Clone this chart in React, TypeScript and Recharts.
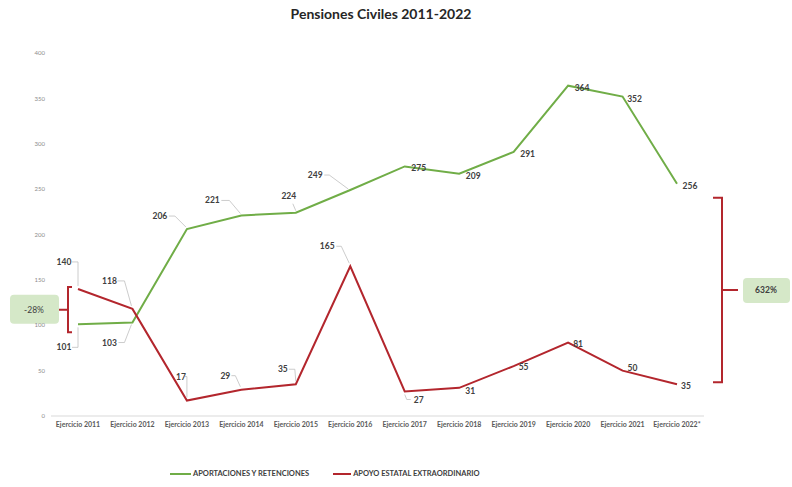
import React from "react";
import {
  LineChart,
  Line,
  XAxis,
  YAxis,
  LabelList,
  ReferenceLine,
} from "recharts";

const years = [
  "Ejercicio 2011",
  "Ejercicio 2012",
  "Ejercicio 2013",
  "Ejercicio 2014",
  "Ejercicio 2015",
  "Ejercicio 2016",
  "Ejercicio 2017",
  "Ejercicio 2018",
  "Ejercicio 2019",
  "Ejercicio 2020",
  "Ejercicio 2021",
  "Ejercicio 2022*",
];

const aportaciones = [101, 103, 206, 221, 224, 249, 275, 267, 291, 364, 352, 256];
const aportacionesLabels = ["101", "103", "206", "221", "224", "249", "275", "209", "291", "364", "352", "256"];

const apoyo = [140, 118, 17, 29, 35, 165, 27, 31, 55, 81, 50, 35];
const apoyoLabels = ["140", "118", "17", "29", "35", "165", "27", "31", "55", "81", "50", "35"];

const yTicks = [0, 50, 100, 150, 200, 250, 300, 350, 400];

const GREEN = "#70ad47";
const RED = "#b3262d";
const FONT = "Lato, 'Open Sans', sans-serif";

// label placement relative to each point (layout only)
type LabelPos = { dx: number; dy: number; leader?: number[][] };

const greenPos: LabelPos[] = [
  { dx: -14, dy: 23, leader: [[-6, 23], [0, 23], [0, 3]] },
  { dx: -23, dy: 20, leader: [[-14, 20], [-8, 20], [-1, 2]] },
  { dx: -27, dy: -13, leader: [[-18, -13], [-12, -13], [-1, -2]] },
  { dx: -29, dy: -15, leader: [[-20, -15], [-12, -15], [-1, -2]] },
  { dx: -7, dy: -17, leader: [[-3, -9], [0, -2]] },
  { dx: -35, dy: -15, leader: [[-26, -15], [-21, -15], [-2, -1]] },
  { dx: 14, dy: 2 },
  { dx: 14, dy: 2 },
  { dx: 14, dy: 2 },
  { dx: 14, dy: 2 },
  { dx: 12, dy: 2 },
  { dx: 13, dy: 2 },
];

const redPos: LabelPos[] = [
  { dx: -14, dy: -27, leader: [[-6, -27], [0, -27], [0, -3]] },
  { dx: -23, dy: -28, leader: [[-15, -28], [-8, -28], [-1, -3]] },
  { dx: -6, dy: -24, leader: [[-2, -24], [0, -24], [0, -3]] },
  { dx: -16, dy: -14, leader: [[-10, -14], [-6, -14], [-1, -3]] },
  { dx: -13, dy: -15, leader: [[-7, -15], [-1, -15], [0, -3]] },
  { dx: -23, dy: -20, leader: [[-14, -20], [-9, -20], [-1, -3]] },
  { dx: 14, dy: 9, leader: [[0, 3], [2, 8], [6, 8]] },
  { dx: 11, dy: 3 },
  { dx: 10, dy: 1 },
  { dx: 10, dy: 2 },
  { dx: 10, dy: -3 },
  { dx: 9, dy: 2 },
];

const data = years.map((year, i) => ({
  year,
  aportaciones: aportaciones[i],
  apoyo: apoyo[i],
  aportacionesLabel: aportacionesLabels[i],
  apoyoLabel: apoyoLabels[i],
}));

const makeLabel = (positions: LabelPos[]) => (props: any) => {
  const { index, value } = props;
  const vb = props.viewBox || {};
  const x = props.x ?? vb.x;
  const y = props.y ?? vb.y;
  const pos = positions[index];
  if (!pos || x == null || y == null) return null;
  return (
    <g key={`lbl-${index}`}>
      {pos.leader && (
        <polyline
          points={pos.leader.map(([a, b]) => `${x + a},${y + b}`).join(" ")}
          fill="none"
          stroke="#bfbfbf"
          strokeWidth={0.8}
        />
      )}
      <text
        x={x + pos.dx}
        y={y + pos.dy}
        textAnchor="middle"
        dominantBaseline="central"
        fontSize={8.5}
        fontWeight={700}
        fontFamily={FONT}
        fill="#404040"
      >
        {value}
      </text>
    </g>
  );
};

const LeftBracket = (props: any) => {
  const { x1, y1, y2 } = props;
  const top = Math.min(y1, y2) - 2;
  const bottom = Math.max(y1, y2) + 8;
  const bx = x1 - 10;
  const mid = (top + bottom) / 2;
  return (
    <g>
      <path
        d={`M${bx + 4},${top} L${bx},${top} L${bx},${bottom} L${bx + 4},${bottom} M${bx},${mid} L${bx - 9},${mid}`}
        fill="none"
        stroke={RED}
        strokeWidth={2}
      />
      <rect x={bx - 58} y={mid - 15} width={49} height={29} rx={4} fill="#d5e8c8" />
      <text
        x={bx - 34}
        y={mid}
        textAnchor="middle"
        dominantBaseline="central"
        fontSize={8.5}
        fontFamily={FONT}
        fill="#404040"
      >
        -28%
      </text>
    </g>
  );
};

const RightBracket = (props: any) => {
  const { x1, y1, y2 } = props;
  const top = Math.min(y1, y2) + 14;
  const bottom = Math.max(y1, y2) - 2;
  const bx = x1 + 45;
  const mid = (top + bottom) / 2;
  return (
    <g>
      <path
        d={`M${bx - 9},${top} L${bx},${top} L${bx},${bottom} L${bx - 9},${bottom} M${bx},${mid} L${bx + 16},${mid}`}
        fill="none"
        stroke={RED}
        strokeWidth={2}
      />
      <rect x={bx + 21} y={mid - 12} width={47} height={25} rx={4} fill="#d5e8c8" />
      <text
        x={bx + 44}
        y={mid}
        textAnchor="middle"
        dominantBaseline="central"
        fontSize={8.5}
        fontWeight={700}
        fontFamily={FONT}
        fill="#404040"
      >
        632%
      </text>
    </g>
  );
};

export default function App() {
  return (
    <div style={{ position: "absolute", left: 0, top: 0, width: 792, height: 487, background: "#fff" }}>
      <div
        style={{
          position: "absolute",
          top: 5,
          left: 0,
          width: 762,
          textAlign: "center",
          fontFamily: FONT,
          fontWeight: 700,
          fontSize: 14,
          color: "#262626",
        }}
      >
        Pensiones Civiles 2011-2022
      </div>
      <LineChart
        width={792}
        height={487}
        data={data}
        margin={{ top: 53, right: 88, bottom: 41, left: 0 }}
      >
        <XAxis
          dataKey="year"
          height={30}
          axisLine={{ stroke: "#d9d9d9" }}
          tickLine={false}
          tickSize={0}
          tickMargin={6}
          interval={0}
          padding={{ left: 27, right: 27 }}
          tick={{ fontSize: 7, fontWeight: 700, fontFamily: FONT, fill: "#595959" }}
        />
        <YAxis
          width={51}
          domain={[0, 400]}
          ticks={yTicks}
          axisLine={false}
          tickLine={false}
          tickSize={0}
          tickMargin={6}
          tick={{ fontSize: 6, fontFamily: FONT, fill: "#8c8c8c" }}
        />
        <ReferenceLine
          segment={[{ x: years[0], y: aportaciones[0] }, { x: years[0], y: apoyo[0] }]}
          ifOverflow="visible"
          shape={LeftBracket}
        />
        <ReferenceLine
          segment={[{ x: years[11], y: apoyo[11] }, { x: years[11], y: aportaciones[11] }]}
          ifOverflow="visible"
          shape={RightBracket}
        />
        <Line
          type="linear"
          dataKey="aportaciones"
          name="APORTACIONES Y RETENCIONES"
          stroke={GREEN}
          strokeWidth={2}
          dot={false}
          isAnimationActive={false}
        >
          <LabelList dataKey="aportacionesLabel" content={makeLabel(greenPos)} />
        </Line>
        <Line
          type="linear"
          dataKey="apoyo"
          name="APOYO ESTATAL EXTRAORDINARIO"
          stroke={RED}
          strokeWidth={2}
          dot={false}
          isAnimationActive={false}
        >
          <LabelList dataKey="apoyoLabel" content={makeLabel(redPos)} />
        </Line>
      </LineChart>
      <div
        style={{
          position: "absolute",
          left: 170,
          top: 469,
          display: "flex",
          alignItems: "center",
          fontFamily: FONT,
          fontSize: 7.5,
          fontWeight: 700,
          color: "#404040",
        }}
      >
        <div style={{ width: 21, height: 2, background: GREEN, marginRight: 2 }} />
        <span>APORTACIONES Y RETENCIONES</span>
        <div style={{ width: 18, height: 2, background: RED, marginLeft: 24, marginRight: 2 }} />
        <span>APOYO ESTATAL EXTRAORDINARIO</span>
      </div>
    </div>
  );
}
